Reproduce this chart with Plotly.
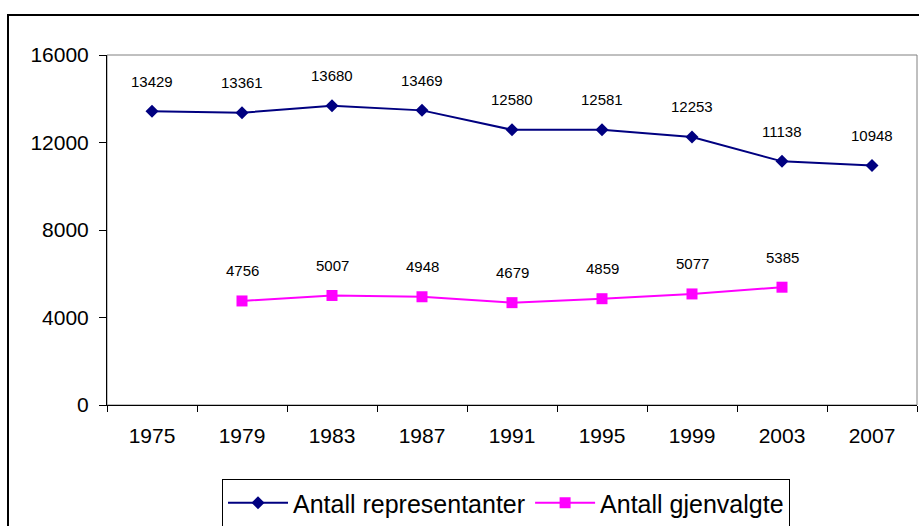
import plotly.graph_objects as go

years = ["1975", "1979", "1983", "1987", "1991", "1995", "1999", "2003", "2007"]
representanter = [13429, 13361, 13680, 13469, 12580, 12581, 12253, 11138, 10948]
gjenvalgte_years = ["1979", "1983", "1987", "1991", "1995", "1999", "2003"]
gjenvalgte = [4756, 5007, 4948, 4679, 4859, 5077, 5385]
y_ticks = [0, 4000, 8000, 12000, 16000]

FONT = "Arial, Liberation Sans, sans-serif"
NAVY = "#000080"
PINK = "#FF00FF"

fig = go.Figure()
fig.add_trace(go.Scatter(
    x=years, y=representanter, mode="lines+markers", name="Antall representanter",
    line=dict(color=NAVY, width=2),
    marker=dict(symbol="diamond", size=10, color=NAVY),
))
fig.add_trace(go.Scatter(
    x=gjenvalgte_years, y=gjenvalgte, mode="lines+markers", name="Antall gjenvalgte",
    line=dict(color=PINK, width=2),
    marker=dict(symbol="square", size=11, color=PINK),
))

annotations = []
for xs, ys in ((years, representanter), (gjenvalgte_years, gjenvalgte)):
    for xv, yv in zip(xs, ys):
        annotations.append(dict(
            x=years.index(xv), y=yv, xref="x", yref="y", text=str(yv), showarrow=False,
            yshift=30, font=dict(family=FONT, size=15, color="black"),
        ))

shapes = [
    dict(type="rect", xref="paper", yref="paper", x0=0, x1=1, y0=0, y1=1,
         line=dict(color="#808080", width=1), layer="below"),
    dict(type="rect", xref="paper", yref="paper",
         x0=(8 - 107) / 810, x1=1.2, y0=-0.6, y1=(405 - 15) / 350,
         line=dict(color="black", width=2), layer="below"),
]

fig.update_layout(
    width=919, height=526,
    margin=dict(l=107, r=2, t=55, b=121, autoexpand=False),
    paper_bgcolor="white", plot_bgcolor="white",
    font=dict(family=FONT, color="black"),
    showlegend=True,
    legend=dict(
        orientation="h", x=(506 - 107) / 810, xanchor="center",
        y=(405 - 479) / 350, yanchor="top",
        font=dict(family=FONT, size=25, color="black"),
        bordercolor="black", borderwidth=1, bgcolor="white",
        itemwidth=60,
    ),
    annotations=annotations,
    shapes=shapes,
    xaxis=dict(
        type="category", categoryorder="array", categoryarray=years,
        range=[-0.5, 8.5], tickson="boundaries", automargin=False,
        showline=True, linecolor="black", linewidth=1,
        ticks="outside", ticklen=6, tickcolor="black",
        showgrid=False, zeroline=False,
        tickfont=dict(family=FONT, size=21, color="black"),
        ticklabelstandoff=12,
    ),
    yaxis=dict(
        range=[0, 16000], tickvals=y_ticks, ticktext=[str(v) for v in y_ticks],
        showline=True, linecolor="black", linewidth=1, automargin=False,
        ticks="outside", ticklen=7, tickcolor="black",
        showgrid=False, zeroline=False,
        tickfont=dict(family=FONT, size=21, color="black"),
        ticklabelstandoff=6,
    ),
)

fig.write_html(
    "out.html",
    config={"displayModeBar": False},
    post_script="document.body.style.margin='0px';document.body.style.overflow='hidden';",
)
